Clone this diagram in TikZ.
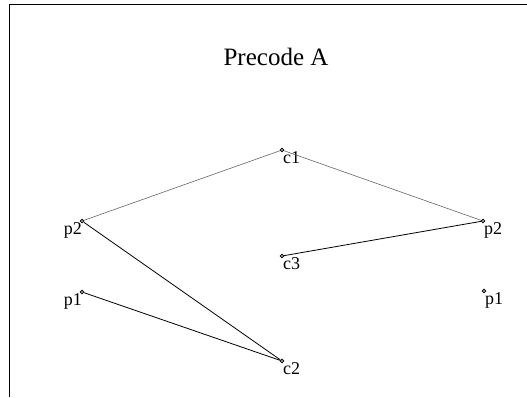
\documentclass[tikz,border=0pt]{standalone}
\usepackage{fontspec}
\setmainfont{Liberation Serif}
\begin{document}
\begin{tikzpicture}[x=1pt,y=-1pt,
  dot/.style={circle,draw=black,fill=white,line width=0.8pt,inner sep=0pt,minimum size=3.6pt},
  lbl/.style={inner sep=0pt,font=\fontsize{18}{19}\selectfont},
  thin link/.style={draw=black!60,line width=0.6pt},
  thick link/.style={draw=black,line width=0.8pt}]
\useasboundingbox (0,0) rectangle (527,397);
\fill[white] (0,0) rectangle (527,397);
\draw[line width=1.6pt] (9.5,397) -- (9.5,4.5) -- (527,4.5);
\node[font=\fontsize{25}{28}\selectfont] (title) at (276,57) {Precode A};
% dots
\node[dot] (c1) at (282,150) {};
\node[dot] (p2l) at (82,221) {};
\node[dot] (p2r) at (483,221) {};
\node[dot] (c3) at (282,256) {};
\node[dot] (p1l) at (82,292) {};
\node[dot] (p1r) at (484,291) {};
\node[dot] (c2) at (282,361) {};
% labels
\node[lbl,anchor=north west,xshift=1pt,yshift=-1.5pt] (c1t) at (c1.center) {c1};
\node[lbl,anchor=north east,yshift=-1.5pt] (p2lt) at (p2l.center) {p2};
\node[lbl,anchor=north west,xshift=1pt,yshift=-1.5pt] (p2rt) at (p2r.center) {p2};
\node[lbl,anchor=north west,xshift=1pt,yshift=-1.5pt] (c3t) at (c3.center) {c3};
\node[lbl,anchor=north east,yshift=-1.5pt] (p1lt) at (p1l.center) {p1};
\node[lbl,anchor=north west,xshift=1pt,yshift=-1.5pt] (p1rt) at (p1r.center) {p1};
\node[lbl,anchor=north west,xshift=1pt,yshift=-1.5pt] (c2t) at (c2.center) {c2};
% connectors
\draw[thin link] (c1) -- (p2l);
\draw[thin link] (c1) -- (p2r);
\draw[thick link] (p2r) -- (c3);
\draw[thick link] (p2l) -- (c2);
\draw[thick link] (p1l) -- (c2);
\end{tikzpicture}
\end{document}
